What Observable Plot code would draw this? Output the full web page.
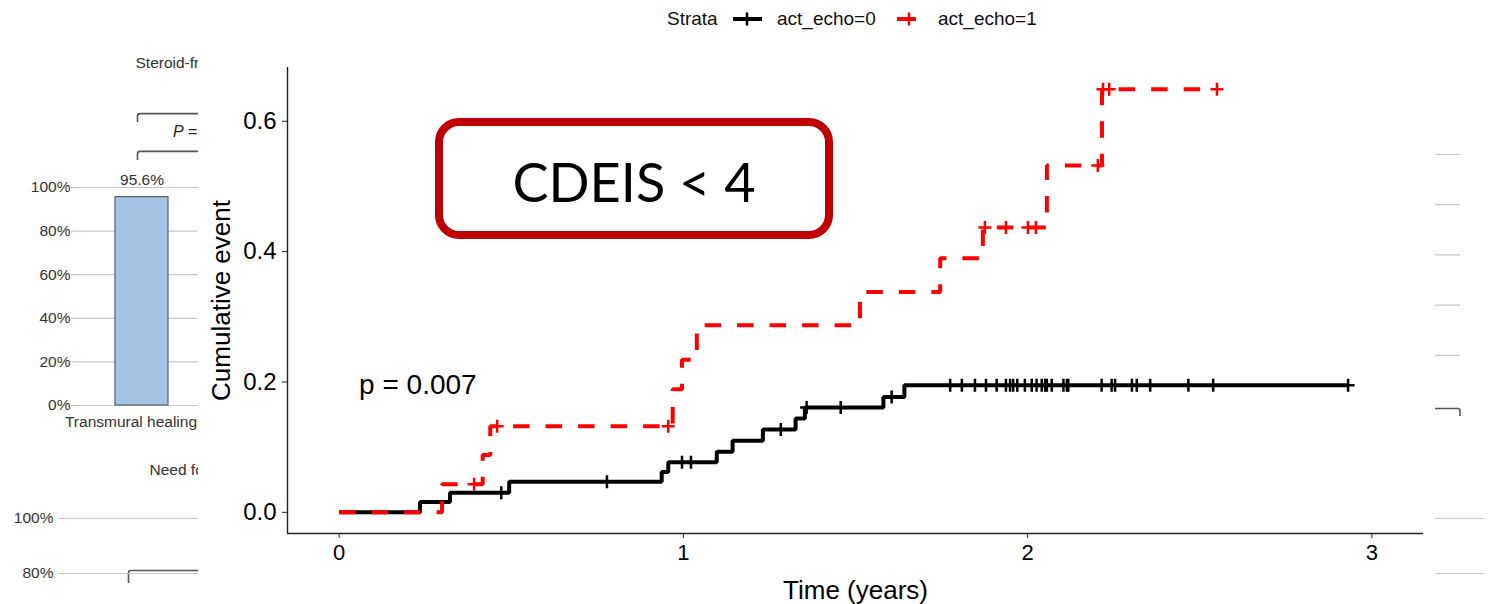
<!DOCTYPE html>
<html><head><meta charset="utf-8">
<script src="https://cdn.jsdelivr.net/npm/d3@7"></script>
<script src="https://cdn.jsdelivr.net/npm/@observablehq/plot@0.6"></script>
<style>
html,body{margin:0;padding:0;background:#fff;}
#stage{position:relative;width:1492px;height:604px;overflow:hidden;font-family:"Liberation Sans",Arial,sans-serif;background:#fff;}
.layer{position:absolute;}
.layer svg{display:block;}
.lg{position:absolute;font-size:19px;line-height:20px;color:#111;white-space:nowrap;}
#cdeis{position:absolute;left:435px;top:118px;width:382px;height:99px;border:8px solid #c00000;border-radius:24px;background:#fff;
  font-family:Lato,"Open Sans",sans-serif;font-size:54px;color:#000;display:flex;align-items:center;justify-content:center;padding-top:6px;box-sizing:content-box;}
</style></head><body><div id="stage"></div>
<script>
// ---------------- data (Kaplan-Meier cumulative event) ----------------
const strataNames = ["act_echo=0", "act_echo=1"];
const strataColors = ["#000000", "#ff0000"];
const legendTitle = "Strata";

// act_echo=0 : step times (years) and cumulative event after the step
const echo0Time  = [0, 0.235, 0.322, 0.494, 0.937, 0.956, 1.097, 1.143, 1.231, 1.326, 1.353, 1.581, 1.642, 2.931];
const echo0Event = [0, 0.016, 0.030, 0.047, 0.062, 0.077, 0.093, 0.110, 0.127, 0.144, 0.161, 0.177, 0.195, 0.195];
// act_echo=1
const echo1Time  = [0, 0.299, 0.417, 0.439, 0.969, 0.996, 1.039, 1.513, 1.746, 1.870, 2.056, 2.216, 2.550];
const echo1Event = [0, 0.043, 0.088, 0.132, 0.189, 0.234, 0.287, 0.338, 0.390, 0.437, 0.532, 0.649, 0.649];

// censoring times
const echo0Censor = [0.471, 0.778, 0.996, 1.022, 1.283, 1.358, 1.457, 1.605,
  1.775, 1.809, 1.847, 1.879, 1.910, 1.937, 1.949, 1.958, 1.970, 1.992, 2.012, 2.026,
  2.041, 2.051, 2.056, 2.070, 2.104, 2.114, 2.118, 2.215, 2.244, 2.254, 2.303, 2.317,
  2.356, 2.467, 2.539, 2.931];
const echo1Censor = [0.392, 0.459, 0.956, 1.876, 1.937, 2.001, 2.024, 2.204, 2.219, 2.237, 2.550];

const xLimits = [0, 3];
const yLimits = [0, 0.65];
const xTicks = [0, 1, 2, 3];
const yTicks = [0, 0.2, 0.4, 0.6];
const xTitle = "Time (years)";
const yTitle = "Cumulative event";
const pLabel = "p = 0.007";
const pPos = [0.058, 0.196];
const boxLabel = "CDEIS < 4";

// ---------------- background slide data ----------------
const bgTitleTop = "Steroid-free remission";
const bgTitleBottom = "Need for surgery";
const bgCategories = ["Transmural healing"];
const bgValues = [95.6];
const bgTicks = [0, 20, 40, 60, 80, 100];
const bgLowerTicks = [80, 100];   // the only ticks of the lower panel inside the slide
const bgRightTicks = [20, 40, 60, 80, 100];

// ---------------- build ----------------
const stage = document.getElementById("stage");
function place(node, left, top, cls="layer") {
  const d = document.createElement("div"); d.className = cls;
  d.style.left = left + "px"; d.style.top = top + "px";
  d.appendChild(node); stage.appendChild(d); return d;
}
const font = "Liberation Sans, Arial, Helvetica, sans-serif";

// upper-left bar chart (background)
const bgBars = bgCategories.map((c, i) => ({cat: c, value: bgValues[i]}));
const bgTop = Plot.plot({
  width: 460, height: 445, marginLeft: 77, marginRight: 0, marginTop: 187, marginBottom: 40,
  style: {fontFamily: font, background: "transparent", color: "#333"},
  x: {domain: bgCategories, range: [115, 168], padding: 0},
  y: {domain: [0, 100]},
  marks: [
    Plot.gridY(bgTicks, {stroke: "#c8c8c8", strokeOpacity: 1, strokeWidth: 1.2}),
    Plot.ruleX([0], {frameAnchor: "left", x: null, stroke: "#c8c8c8", strokeWidth: 1.2}),
    Plot.axisY({ticks: bgTicks, tickFormat: d => d + "%", tickSize: 6, tickPadding: 1, fontSize: 15.5, stroke: "#bbb", fill: "#333", label: null}),
    Plot.axisX({tickSize: 0, tickPadding: 10, dx: -11, fontSize: 15.5, fill: "#333", label: null}),
    Plot.barY(bgBars, {x: "cat", y: "value", fill: "#a4c2e4", stroke: "#56606b", strokeWidth: 1.2}),
    Plot.text(bgBars, {x: "cat", y: "value", text: d => d.value + "%", dy: -17, fontSize: 15.5, fill: "#333"}),
    Plot.text([bgTitleTop], {frameAnchor: "top-left", dx: 58, dy: -131, textAnchor: "start", fontSize: 15.5, fill: "#333"})
  ]
});
place(bgTop, 0, 0);

// brackets / P on background (decoration)
const brk = document.createElementNS("http://www.w3.org/2000/svg", "svg");
brk.setAttribute("width", 1492); brk.setAttribute("height", 604);
brk.innerHTML = `
<g fill="none" stroke="#555" stroke-width="1.6">
<path d="M137.5,122 V116 Q137.5,113.6 140,113.6 H240"/>
<path d="M137.5,160 V154 Q137.5,151.4 140,151.4 H240"/>
<path d="M128.5,583 V573 Q128.5,570.5 131,570.5 H240"/>
<path d="M1400,408.5 H1458 Q1460,408.5 1460,411 V416"/>
</g>
<text x="173" y="136.5" font-family="${font}" font-size="16" fill="#222"><tspan font-style="italic">P</tspan> =</text>`;
place(brk, 0, 0);

// lower background chart (only top gridlines visible)
const bgBottom = Plot.plot({
  width: 1492, height: 370, marginLeft: 63, marginRight: 8, marginTop: 78, marginBottom: 17,
  style: {fontFamily: font, background: "transparent", color: "#333"},
  y: {domain: [0, 100]},
  marks: [
    Plot.gridY(bgLowerTicks, {stroke: "#c8c8c8", strokeOpacity: 1, strokeWidth: 1.2}),
    Plot.ruleX([0], {frameAnchor: "left", x: null, stroke: "#c8c8c8", strokeWidth: 1.2}),
    Plot.axisY({ticks: bgLowerTicks, tickFormat: d => d + "%", tickSize: 4, tickPadding: 6, fontSize: 15.5, stroke: "#bbb", fill: "#333", label: null}),
    Plot.text([bgTitleBottom], {frameAnchor: "top-left", dx: 86, dy: -55, textAnchor: "start", fontSize: 15.5, fill: "#333"})
  ]
});
place(bgBottom, 0, 440);

// upper-right background chart gridlines
const bgRight = Plot.plot({
  width: 260, height: 430, marginLeft: 0, marginRight: 32, marginTop: 154, marginBottom: 25,
  style: {fontFamily: font, background: "transparent"},
  y: {domain: [0, 100], axis: null},
  marks: [
    Plot.gridY(bgRightTicks, {stroke: "#c8c8c8", strokeOpacity: 1, strokeWidth: 1.2})
  ]
});
place(bgRight, 1232, 0);

// ---------------- main KM chart ----------------
const expand = (lim) => { const r = lim[1] - lim[0]; return [lim[0] - 0.05 * r, lim[1] + 0.05 * r]; };
const xDomain = expand(xLimits);
const yDomain = expand(yLimits);

function stepValue(times, events, t) {
  let v = events[0];
  for (let i = 0; i < times.length; i++) if (times[i] <= t) v = events[i];
  return v;
}
const series = [
  {name: strataNames[0], color: strataColors[0], times: echo0Time, events: echo0Event, censor: echo0Censor, dash: null},
  {name: strataNames[1], color: strataColors[1], times: echo1Time, events: echo1Event, censor: echo1Censor, dash: "16.5,16"}
];
const plusSymbol = {
  draw(ctx, size) {
    const r = Math.sqrt(size / Math.PI);
    ctx.moveTo(-r, 0); ctx.lineTo(r, 0);
    ctx.moveTo(0, -r); ctx.lineTo(0, r);
  }
};
const curveMarks = [];
for (const s of series) {
  const pts = s.times.map((t, i) => ({time: t, event: s.events[i]}));
  curveMarks.push(Plot.line(pts, {x: "time", y: "event", curve: "step-after", stroke: s.color, strokeWidth: 4,
    strokeDasharray: s.dash, strokeLinejoin: "miter", strokeLinecap: "butt"}));
}
for (const s of series) {
  const cens = s.censor.map(t => ({time: t, event: stepValue(s.times, s.events, t)}));
  curveMarks.push(Plot.dot(cens, {x: "time", y: "event", symbol: plusSymbol, r: 6.5, stroke: s.color, strokeWidth: 2.5, fill: "none"}));
}

const km = Plot.plot({
  width: 1237, height: 604, marginLeft: 89, marginRight: 12, marginTop: 67, marginBottom: 71,
  style: {fontFamily: font, background: "#fff", color: "#000"},
  x: {domain: xDomain},
  y: {domain: yDomain},
  marks: [
    Plot.ruleX([xDomain[0]], {stroke: "#222", strokeWidth: 1.4}),
    Plot.ruleY([yDomain[0]], {stroke: "#222", strokeWidth: 1.4}),
    Plot.axisX({ticks: xTicks, tickFormat: d => String(d), tickSize: 5, tickPadding: 6, fontSize: 22, stroke: "#222", fill: "#000", label: null}),
    Plot.axisY({ticks: yTicks, tickFormat: d => d.toFixed(1), tickSize: 5, tickPadding: 6, fontSize: 24, stroke: "#222", fill: "#000", label: null}),
    Plot.text([xTitle], {frameAnchor: "bottom", lineAnchor: "middle", dy: 57, fontSize: 26, fill: "#000"}),
    Plot.text([yTitle], {frameAnchor: "left", textAnchor: "middle", lineAnchor: "middle", dx: -66, rotate: -90, fontSize: 26, fill: "#000"}),
    ...curveMarks,
    Plot.text([pLabel], {x: pPos[0], y: pPos[1], textAnchor: "start", fontSize: 28, fill: "#000"})
  ]
});
place(km, 198, 0);

// legend (HTML)
function lgText(txt, left) { const d = document.createElement("div"); d.className = "lg"; d.textContent = txt; d.style.left = left + "px"; d.style.top = "9px"; stage.appendChild(d); }
function lgGlyph(color, left, x1, x2, xv) {
  const svg = document.createElementNS("http://www.w3.org/2000/svg", "svg");
  svg.setAttribute("width", 34); svg.setAttribute("height", 20);
  svg.innerHTML = `<line x1="${x1}" x2="${x2}" y1="10" y2="10" stroke="${color}" stroke-width="4"/>
  <line x1="${xv}" x2="${xv}" y1="3.5" y2="16.5" stroke="${color}" stroke-width="2.5"/>`;
  const d = document.createElement("div"); d.className = "layer"; d.style.left = left + "px"; d.style.top = "9px";
  d.appendChild(svg); stage.appendChild(d);
}
lgText(legendTitle, 667);
lgGlyph(strataColors[0], 731, 2, 31, 16);
lgText(strataNames[0], 777);
lgGlyph(strataColors[1], 890, 7, 26, 19);
lgText(strataNames[1], 938);

// CDEIS box
const box = document.createElement("div"); box.id = "cdeis"; box.textContent = boxLabel; stage.appendChild(box);
</script></body></html>
